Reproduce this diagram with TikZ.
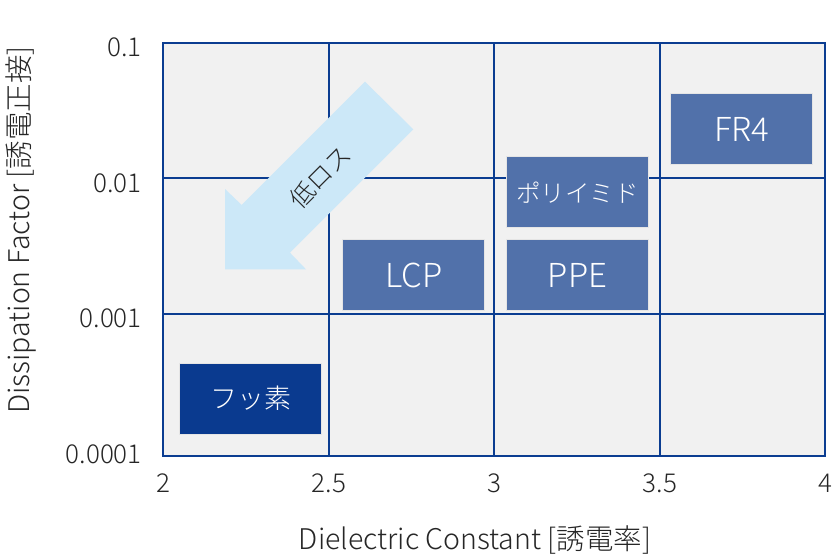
\documentclass[tikz,border=0pt]{standalone}
\usepackage{fontspec}
\setmainfont{Noto Sans CJK JP Light}
\usetikzlibrary{positioning}
\definecolor{gridblue}{HTML}{0B3D91}
\definecolor{plotbg}{HTML}{F1F1F1}
\definecolor{boxblue}{HTML}{5171AA}
\definecolor{darkblue}{HTML}{0A3A8F}
\definecolor{arrowblue}{HTML}{CCE8F8}
\definecolor{labelgray}{HTML}{262626}
\tikzset{
  tick/.style={text=labelgray,font=\fontsize{26}{28}\selectfont,inner sep=0pt},
  axistitle/.style={text=labelgray,font=\fontsize{28.5}{30}\selectfont,inner sep=0pt},
  matbox/.style={draw=white!80!gray,line width=0.8pt,text=white,
    minimum width=142pt,minimum height=71pt,inner sep=0pt,
    font=\fontsize{33}{35}\selectfont}
}
\begin{document}
\begin{tikzpicture}[x=1pt,y=-1pt]
      \useasboundingbox (0,0) rectangle (832,554);
      \fill[plotbg] (163,43) rectangle (825,456);
      \begin{scope}[draw=gridblue,line width=1.8pt]
        \draw (163,43) rectangle (825,456);
        \draw (329,43) -- (329,456);
        \draw (494,43) -- (494,456);
        \draw (660,43) -- (660,456);
        \draw (163,178) -- (825,178);
        \draw (163,314) -- (825,314);
      \end{scope}
      % arrow
      \fill[arrowblue] (225,269.3) -- (225,189) -- (241.7,205) -- (365,81.7)
        -- (413.3,129.3) -- (290,252.7) -- (306,269.3) -- cycle;
      \node[rotate=45,text=labelgray,font=\fontsize{25}{27}\selectfont] (lowloss) at (320,177) {低ロス};
      \begin{scope}[every node/.style={tick,anchor=east}]
        \node (y1) at (142,47) {0.1};
        \node (y2) at (142,183) {0.01};
        \node (y3) at (142,318) {0.001};
        \node (y4) at (142,454) {0.0001};
      \end{scope}
      \begin{scope}[every node/.style={tick}]
        \node (x1) at (163,483) {2};
        \node (x2) at (329,483) {2.5};
        \node (x3) at (494,483) {3};
        \node (x4) at (660,483) {3.5};
        \node (x5) at (825,483) {4};
      \end{scope}
      \node[axistitle] (xtitle) at (475,540) {Dielectric Constant [誘電率]};
      \node[axistitle,rotate=90] (ytitle) at (21,230) {Dissipation Factor [誘電正接]};
      \begin{scope}[every node/.style={matbox,fill=boxblue}]
        \node (fr4) at (741.7,129) {FR4};
        \node (pi) at (577.5,192.3) {\fontsize{24.5}{27}\selectfont ポリイミド};
        \node (ppe) at (577.5,275.3) {PPE};
        \node (lcp) at (413.7,275.3) {LCP};
      \end{scope}
      \node[matbox,fill=darkblue] (ptfe) at (250.8,398.7) {\fontsize{27}{29}\selectfont フッ素};
    \end{tikzpicture}
\end{document}
